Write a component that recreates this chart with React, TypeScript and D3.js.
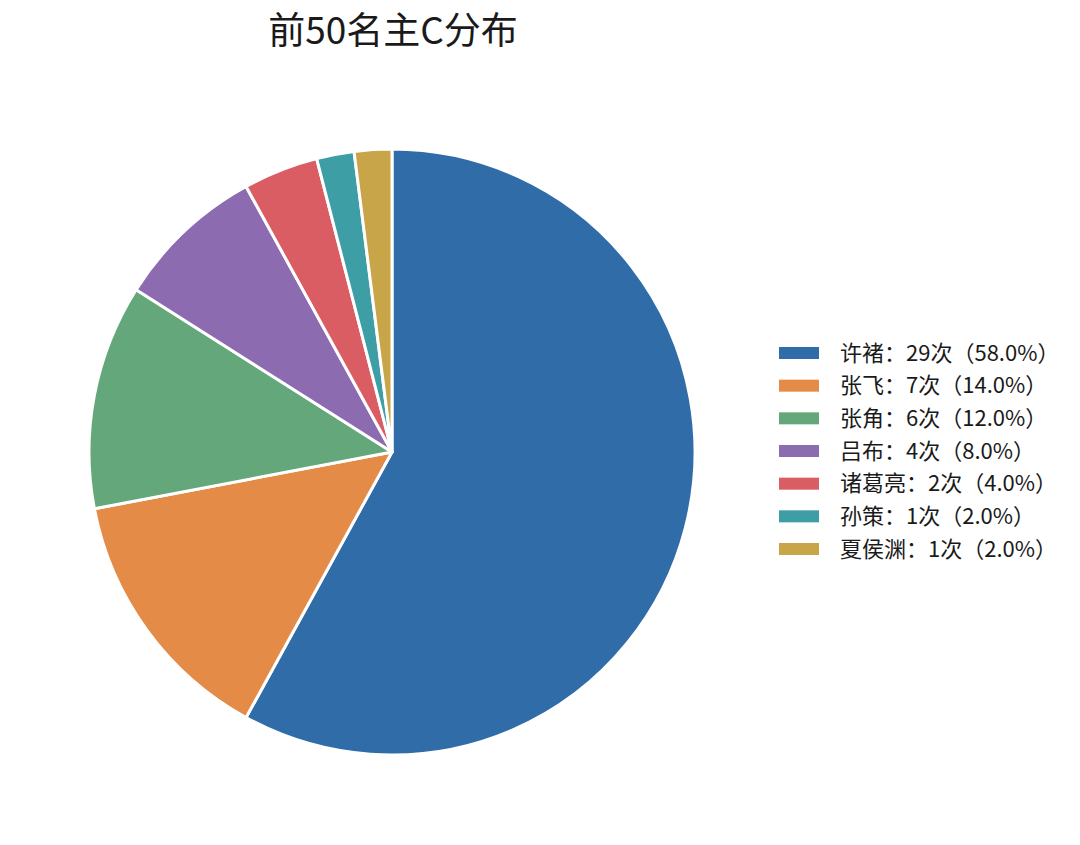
import React from "react";
import * as d3 from "d3";

const names = ["许褚", "张飞", "张角", "吕布", "诸葛亮", "孙策", "夏侯渊"];
const counts = [29, 7, 6, 4, 2, 1, 1];
const colors = ["#2f6ca8", "#e48b47", "#63a77a", "#8c6bb1", "#d95d63", "#3d9ea6", "#c9a54a"];

const W = 1080;
const H = 845;
const cx = 392;
const cy = 452;
const radius = 303;
const font = "'Noto Sans CJK SC', 'Noto Sans', sans-serif";

type Slice = { name: string; count: number; color: string };

export default function App() {
  const data: Slice[] = names.map((n, i) => ({ name: n, count: counts[i], color: colors[i] }));
  const total = d3.sum(counts);
  const pie = d3.pie<Slice>().sort(null).value((d) => d.count);
  const arc = d3.arc<d3.PieArcDatum<Slice>>().innerRadius(0).outerRadius(radius);
  const arcs = pie(data);

  const legendY = d3.scalePoint<number>().domain(d3.range(names.length)).range([353, 549]);

  return (
    <svg width={W} height={H} style={{ display: "block", margin: "-8px" }}>
      <rect width={W} height={H} fill="#fff" />
      <text x={393} y={44} textAnchor="middle" fontFamily={font} fontSize={37} fill="#1a1a1a">
        前50名主C分布
      </text>
      <g transform={`translate(${cx},${cy})`}>
        {arcs.map((a) => (
          <path key={a.data.name} d={arc(a) ?? ""} fill={a.data.color} stroke="#fff" strokeWidth={3} strokeLinejoin="round" />
        ))}
      </g>
      <g>
        {data.map((d, i) => {
          const y = legendY(i) ?? 0;
          const pct = ((d.count / total) * 100).toFixed(1);
          return (
            <g key={d.name}>
              <rect x={779} y={y - 6} width={40} height={12} fill={d.color} />
              <text x={840} y={y} dy="0.35em" fontFamily={font} fontSize={22} fill="#1a1a1a">
                {`${d.name}：${d.count}次（${pct}%）`}
              </text>
            </g>
          );
        })}
      </g>
    </svg>
  );
}
